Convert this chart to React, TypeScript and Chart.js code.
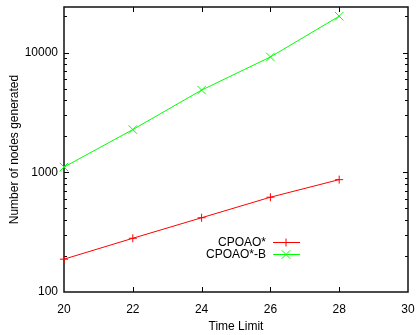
import React, { useEffect, useRef } from 'react';
import { Chart, registerables } from 'chart.js';

Chart.register(...registerables);

const timeLimits = [20, 22, 24, 26, 28];
const cpoaoNodes = [188, 281, 417, 619, 868];
const cpoaoBNodes = [1105, 2272, 4855, 9177, 20100];
const seriesLabels = ['CPOAO*', 'CPOAO*-B'];
const seriesColors = ['#ff0000', '#00ff00'];
const xMin = 20;
const xMax = 30;
const xStep = 2;
const yMin = 100;
const yMax = 24000;
const xTitle = 'Time Limit';
const yTitle = 'Number of nodes generated';

const FONT = "'Liberation Sans', Arial, Helvetica, sans-serif";

function isPow10(v: number) {
  const l = Math.log10(v);
  return Math.abs(l - Math.round(l)) < 1e-9;
}
function isNiceLog(v: number) {
  const p = Math.pow(10, Math.floor(Math.log10(v) + 1e-9));
  const m = v / p;
  return Math.abs(m - Math.round(m)) < 1e-6;
}

function drawMarker(ctx: CanvasRenderingContext2D, style: string, x: number, y: number, r: number) {
  ctx.beginPath();
  if (style === 'cross') {
    ctx.moveTo(x - r, y);
    ctx.lineTo(x + r, y);
    ctx.moveTo(x, y - r);
    ctx.lineTo(x, y + r);
  } else {
    const d = r * Math.SQRT1_2;
    ctx.moveTo(x - d, y - d);
    ctx.lineTo(x + d, y + d);
    ctx.moveTo(x - d, y + d);
    ctx.lineTo(x + d, y - d);
  }
  ctx.stroke();
}

const framePlugin = {
  id: 'gnuFrame',
  beforeDatasetsDraw(chart: any) {
    const { ctx, chartArea: a, scales } = chart;
    ctx.save();
    ctx.strokeStyle = '#000';
    ctx.lineWidth = 1;
    const seg = (x1: number, y1: number, x2: number, y2: number) => {
      ctx.beginPath();
      ctx.moveTo(x1, y1);
      ctx.lineTo(x2, y2);
      ctx.stroke();
    };
    for (const t of scales.x.ticks) {
      const px = Math.round(scales.x.getPixelForValue(t.value)) + 0.5;
      if (px <= a.left + 1 || px >= a.right - 1) continue;
      seg(px, a.bottom, px, a.bottom - 5);
      seg(px, a.top, px, a.top + 5);
    }
    for (const t of scales.y.ticks) {
      const v = t.value;
      if (!isNiceLog(v)) continue;
      const py = Math.round(scales.y.getPixelForValue(v)) + 0.5;
      if (py <= a.top + 1 || py >= a.bottom - 1) continue;
      const len = isPow10(v) ? 5 : 3;
      seg(a.left, py, a.left + len, py);
      seg(a.right, py, a.right - len, py);
    }
    ctx.lineWidth = 1.5;
    ctx.strokeStyle = '#111';
    ctx.strokeRect(a.left, a.top, a.right - a.left, a.bottom - a.top);
    ctx.restore();
  },
  afterDraw(chart: any) {
    const { ctx } = chart;
    ctx.save();
    ctx.font = `12px ${FONT}`;
    ctx.textAlign = 'right';
    ctx.textBaseline = 'middle';
    const textRight = 266;
    const rowY = [242.5, 254.5];
    chart.data.datasets.forEach((ds: any, i: number) => {
      const y = rowY[i];
      ctx.fillStyle = '#000';
      ctx.fillText(ds.label, textRight, y);
      ctx.strokeStyle = ds.borderColor;
      ctx.lineWidth = 1;
      ctx.beginPath();
      ctx.moveTo(273, y);
      ctx.lineTo(300, y);
      ctx.stroke();
      drawMarker(ctx, ds.pointStyle, 286, y, ds.pointRadius);
    });
    ctx.restore();
  },
};

const zeroPad = (s: any) => {
  s.paddingTop = 0;
  s.paddingBottom = 0;
  s.paddingLeft = 0;
  s.paddingRight = 0;
};

export default function App() {
  const ref = useRef<HTMLCanvasElement | null>(null);
  useEffect(() => {
    document.body.style.margin = '0';
    const canvas = ref.current!;
    const chart = new Chart(canvas, {
      type: 'line',
      data: {
        datasets: [
          {
            label: seriesLabels[0],
            data: timeLimits.map((x, i) => ({ x, y: cpoaoNodes[i] })),
            borderColor: seriesColors[0],
            backgroundColor: seriesColors[0],
            borderWidth: 1,
            pointStyle: 'cross',
            pointRadius: 4,
            pointBorderWidth: 1,
            pointHoverRadius: 4,
            fill: false,
            tension: 0,
            clip: false,
          } as any,
          {
            label: seriesLabels[1],
            data: timeLimits.map((x, i) => ({ x, y: cpoaoBNodes[i] })),
            borderColor: seriesColors[1],
            backgroundColor: seriesColors[1],
            borderWidth: 1,
            pointStyle: 'crossRot',
            pointRadius: 6,
            pointBorderWidth: 1,
            pointHoverRadius: 6,
            fill: false,
            tension: 0,
            clip: false,
          } as any,
        ],
      },
      options: {
        animation: false,
        responsive: false,
        maintainAspectRatio: false,
        devicePixelRatio: 1,
        layout: { padding: { top: 5, right: 8, left: 0, bottom: 0 } },
        plugins: {
          legend: { display: false },
          tooltip: { enabled: false },
        },
        scales: {
          x: {
            type: 'linear',
            min: xMin,
            max: xMax,
            grid: { display: false, drawTicks: false },
            border: { display: false },
            ticks: {
              stepSize: xStep,
              color: '#000',
              font: { family: FONT, size: 12 },
              padding: 10,
              maxRotation: 0,
              autoSkip: false,
            },
            title: {
              display: true,
              text: xTitle,
              color: '#000',
              font: { family: FONT, size: 12 },
              padding: { top: 0, bottom: 1 },
            },
            afterFit: (s: any) => {
              s.height = 43;
              zeroPad(s);
            },
          },
          y: {
            type: 'logarithmic',
            min: yMin,
            max: yMax,
            grid: { display: false, drawTicks: false },
            border: { display: false },
            ticks: {
              color: '#000',
              font: { family: FONT, size: 12 },
              padding: 6,
              autoSkip: false,
              callback: (v: any) => (isPow10(Number(v)) ? String(Number(v)) : ''),
            },
            title: {
              display: true,
              text: yTitle,
              color: '#000',
              font: { family: FONT, size: 12 },
              padding: { top: 7, bottom: 0 },
            },
            afterFit: (s: any) => {
              s.width = 64;
              zeroPad(s);
            },
          },
        },
      } as any,
      plugins: [framePlugin],
    });
    return () => chart.destroy();
  }, []);
  return (
    <div style={{ width: 416, height: 335 }}>
      <canvas ref={ref} width={416} height={335} style={{ display: 'block', width: 416, height: 335 }} />
    </div>
  );
}
